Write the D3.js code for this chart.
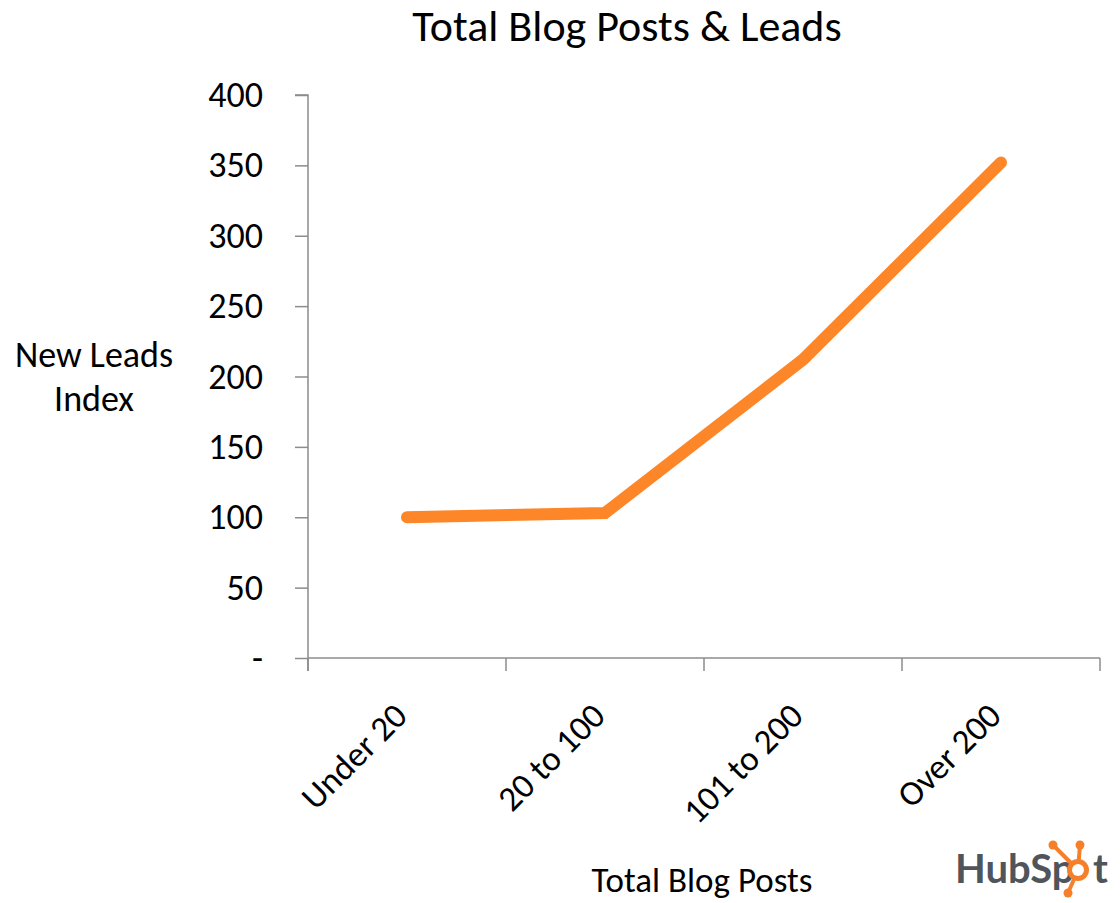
<!DOCTYPE html>
<html>
<head>
<meta charset="utf-8">
<script src="https://cdn.jsdelivr.net/npm/d3@7"></script>
<style>
  body { margin: 0; background: #fff; }
  svg { display: block; }
  text { font-family: Carlito, Lato, "Open Sans", sans-serif; fill: #000; }
</style>
</head>
<body>
<div id="chart"></div>
<script>
const categories = ['Under 20', '20 to 100', '101 to 200', 'Over 200'];
const leadsIndex = [100, 103, 212, 352];
const yTicks = [0, 50, 100, 150, 200, 250, 300, 350, 400];

(() => {
    const W = 1120, H = 903;
    const m = {top: 95, right: 20, bottom: 245, left: 308};

    let svg = d3.select('#chart')
        .append('svg')
        .attr('width', W)
        .attr('height', H);

    let x = d3.scaleBand()
        .domain(categories)
        .range([m.left, W - m.right]);
    let y = d3.scaleLinear()
        .domain([0, 400])
        .range([H - m.bottom, m.top]);

    // y axis
    let yAxis = svg.append('g')
        .attr('transform', `translate(${m.left},0)`)
        .call(d3.axisLeft(y).tickValues(yTicks).tickSize(13).tickPadding(32)
            .tickFormat(d => d === 0 ? '-' : d));
    yAxis.selectAll('line, path').attr('stroke', '#8c8c8c').attr('stroke-width', 1.5);
    yAxis.select('.domain').attr('d', `M-13,${y(400)}H0V${y(0) + 13}`);
    yAxis.selectAll('text').style('font-size', '36px').attr('fill', '#000');

    // x axis
    let xAxis = svg.append('g')
        .attr('transform', `translate(0,${y(0)})`)
        .call(d3.axisBottom(x).tickSize(0).tickFormat(''));
    xAxis.select('.domain').attr('stroke', '#8c8c8c').attr('stroke-width', 1.5)
        .attr('d', `M${m.left},0H${W - m.right}`);
    let bounds = categories.map(c => x(c)).concat([x(categories[categories.length - 1]) + x.bandwidth()]);
    xAxis.selectAll('.sep')
        .data(bounds)
        .enter()
        .append('line')
        .attr('x1', d => d).attr('x2', d => d)
        .attr('y1', 0).attr('y2', 13)
        .attr('stroke', '#8c8c8c').attr('stroke-width', 1.5);
    xAxis.selectAll('.cat')
        .data(categories)
        .enter()
        .append('text')
        .attr('class', 'cat')
        .attr('text-anchor', 'end')
        .attr('transform', d => `translate(${x(d) + x.bandwidth() / 2 + 2},60) rotate(-45)`)
        .style('font-size', '35px')
        .text(d => d);

    // line
    let line = d3.line()
        .x((d, i) => x(categories[i]) + x.bandwidth() / 2)
        .y(d => y(d));
    svg.append('path')
        .datum(leadsIndex)
        .attr('d', line)
        .attr('fill', 'none')
        .attr('stroke', '#fd8628')
        .attr('stroke-width', 12)
        .attr('stroke-linecap', 'round')
        .attr('stroke-linejoin', 'miter');

    // titles
    svg.append('text')
        .attr('x', 627).attr('y', 41)
        .attr('text-anchor', 'middle')
        .style('font-size', '44px')
        .text('Total Blog Posts & Leads');
    svg.append('text')
        .attr('x', 702).attr('y', 892)
        .attr('text-anchor', 'middle')
        .style('font-size', '35px')
        .text('Total Blog Posts');
    let yl = svg.append('text')
        .attr('text-anchor', 'middle')
        .style('font-size', '36px');
    yl.append('tspan').attr('x', 94).attr('y', 367).text('New Leads');
    yl.append('tspan').attr('x', 94).attr('y', 411).text('Index');

    // HubSpot mark
    const grey = '#4f555b', orange = '#f6802a';
    let logo = svg.append('g').attr('transform', 'translate(955,883)');
    logo.append('text')
        .style('font-family', 'Lato, "Open Sans", sans-serif')
        .style('font-weight', 'bold')
        .style('font-size', '40px')
        .style('fill', grey)
        .text('HubSp');
    let sp = logo.append('g').attr('transform', 'translate(123,-13)');
    [[-25, -25], [2, -25], [-10, 23]].forEach(p => {
        sp.append('line').attr('x1', 0).attr('y1', 0).attr('x2', p[0]).attr('y2', p[1])
            .attr('stroke', orange).attr('stroke-width', 4);
        sp.append('circle').attr('cx', p[0]).attr('cy', p[1]).attr('r', 4.5).attr('fill', orange);
    });
    sp.append('circle').attr('r', 11).attr('fill', orange);
    sp.append('circle').attr('r', 6).attr('fill', '#fff');
    logo.append('text')
        .attr('x', 138)
        .style('font-family', 'Lato, "Open Sans", sans-serif')
        .style('font-weight', 'bold')
        .style('font-size', '40px')
        .style('fill', grey)
        .text('t');
})();
</script>
</body>
</html>
